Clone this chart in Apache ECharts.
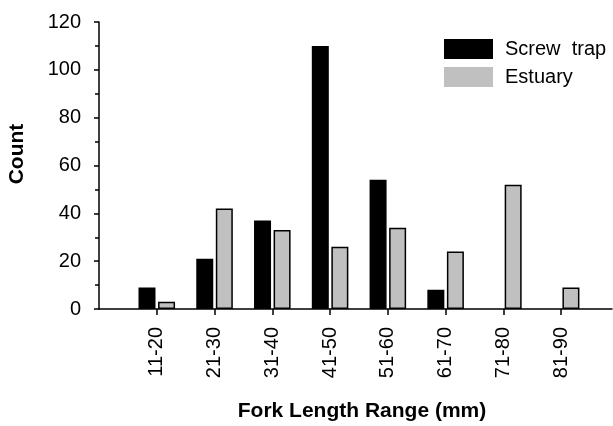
<!DOCTYPE html>
<html>
<head>
<meta charset="utf-8">
<script src="https://cdn.jsdelivr.net/npm/echarts@6/dist/echarts.min.js"></script>
<style>
  html, body { margin: 0; padding: 0; background: #fff; }
  #main { width: 613px; height: 426px; }
</style>
</head>
<body>
<div id="main"></div>
<script>
// 数据
var categories = ['11-20', '21-30', '31-40', '41-50', '51-60', '61-70', '71-80', '81-90'];
var screwTrap = [9, 21, 37, 110, 54, 8, null, null];
var estuary = [3, 42, 33, 26, 34, 24, 52, 9];
var yTicks = [0, 20, 40, 60, 80, 100, 120];

var font = '"Liberation Sans", Arial, sans-serif';

// 转成 [x, y]，x 轴用数值轴，刻度位置 1..8
function toPoints(arr) {
    var out = [];
    for (var i = 0; i < arr.length; i++) {
        if (arr[i] != null) out.push([i + 1, arr[i]]);
    }
    return out;
}
var tickPos = categories.map(function (c, i) { return i + 1; });

var chart = echarts.init(document.getElementById('main'));
var option = {
    animation: false,
    backgroundColor: '#fff',
    textStyle: { fontFamily: font, color: '#000' },
    grid: {
        left: 99,
        right: 1,
        top: 22,
        bottom: 117
    },
    legend: {
        orient: 'vertical',
        left: 439,
        top: 34,
        icon: 'rect',
        itemWidth: 49,
        itemHeight: 20,
        itemGap: 8,
        itemStyle: { borderWidth: 0 },
        textStyle: { fontSize: 20, fontFamily: font, color: '#000', padding: [0, 0, 0, 7] },
        data: ['Screw  trap', 'Estuary']
    },
    xAxis: {
        type: 'value',
        min: 0,
        max: 8.88,
        interval: 1,
        splitLine: { show: false },
        axisLine: { onZero: false, lineStyle: { color: '#000', width: 1.5 } },
        axisTick: { customValues: tickPos, length: 6, lineStyle: { color: '#000', width: 1.5 } },
        axisLabel: {
            customValues: tickPos,
            rotate: 90,
            margin: 18,
            fontSize: 20,
            fontFamily: font,
            color: '#000',
            formatter: function (v) { return categories[Math.round(v) - 1] || ''; }
        }
    },
    yAxis: {
        type: 'value',
        min: yTicks[0],
        max: yTicks[yTicks.length - 1],
        interval: 20,
        splitLine: { show: false },
        axisLine: { show: true, lineStyle: { color: '#000', width: 1.5 } },
        axisTick: { show: true, length: 5, lineStyle: { color: '#000', width: 1.5 } },
        minorTick: { show: true, splitNumber: 2, length: 4, lineStyle: { color: '#000', width: 1.5 } },
        axisLabel: { margin: 18, fontSize: 20, fontFamily: font, color: '#000' }
    },
    graphic: [
        {
            type: 'text',
            x: 17,
            y: 154,
            rotation: Math.PI / 2,
            style: {
                text: 'Count',
                font: 'bold 21px ' + font,
                fill: '#000',
                textAlign: 'center',
                textVerticalAlign: 'middle'
            }
        },
        {
            type: 'text',
            x: 362,
            y: 411,
            style: {
                text: 'Fork Length Range (mm)',
                font: 'bold 21px ' + font,
                fill: '#000',
                textAlign: 'center',
                textVerticalAlign: 'middle'
            }
        }
    ],
    series: [
        {
            name: 'Screw  trap',
            type: 'bar',
            barWidth: 17,
            barGap: '15%',
            itemStyle: { color: '#000', borderColor: '#000', borderWidth: 1.5 },
            data: toPoints(screwTrap)
        },
        {
            name: 'Estuary',
            type: 'bar',
            barWidth: 17,
            barGap: '15%',
            itemStyle: { color: '#c0c0c0', borderColor: '#000', borderWidth: 1.5 },
            data: toPoints(estuary)
        }
    ]
};
chart.setOption(option);
</script>
</body>
</html>
